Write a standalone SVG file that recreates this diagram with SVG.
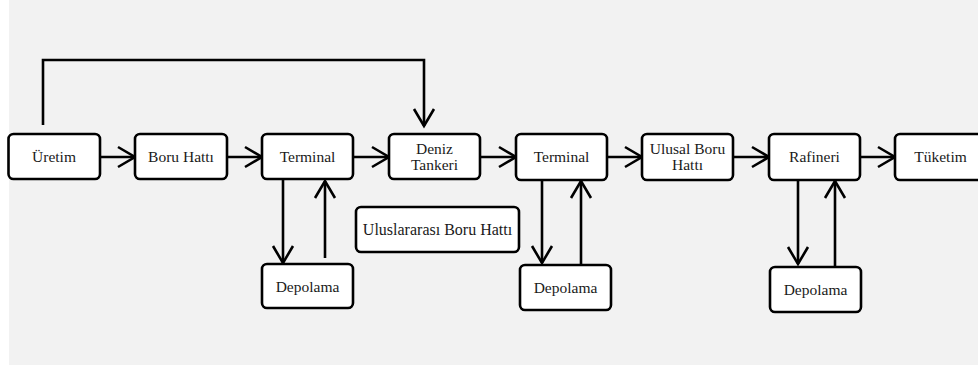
<svg xmlns="http://www.w3.org/2000/svg" width="978" height="365" viewBox="0 0 978 365">
<style>
.box{fill:#fff;stroke:#000;stroke-width:2.6}
.t{font-size:15.5px;fill:#1a1a1a;text-anchor:middle}
.c{fill:none;stroke:#000;stroke-width:2.6}
</style>
<defs>
<marker id="ah" markerUnits="userSpaceOnUse" markerWidth="40" markerHeight="40" viewBox="-20 -20 40 40" refX="0" refY="0" orient="auto" overflow="visible">
<path d="M-17,-10 L0,0 L-17,10" fill="none" stroke="#000" stroke-width="2.6"/>
</marker>
</defs>
<rect x="9" y="0" width="969" height="365" fill="#f2f2f2"/>
<g id="connectors">
<path class="c" d="M43,125 V60 H424 V126" marker-end="url(#ah)"/>
<path class="c" d="M100,157 H135" marker-end="url(#ah)"/>
<path class="c" d="M227,157 H262" marker-end="url(#ah)"/>
<path class="c" d="M353,157 H389" marker-end="url(#ah)"/>
<path class="c" d="M480,157 H516" marker-end="url(#ah)"/>
<path class="c" d="M607,157 H642" marker-end="url(#ah)"/>
<path class="c" d="M733,157 H769" marker-end="url(#ah)"/>
<path class="c" d="M860,157 H895" marker-end="url(#ah)"/>
<path class="c" d="M283,180 V263" marker-end="url(#ah)"/>
<path class="c" d="M325,258 V181" marker-end="url(#ah)"/>
<path class="c" d="M542,180 V263" marker-end="url(#ah)"/>
<path class="c" d="M581,264 V181" marker-end="url(#ah)"/>
<path class="c" d="M798,180 V264" marker-end="url(#ah)"/>
<path class="c" d="M835,266 V181" marker-end="url(#ah)"/>
</g>
<g font-family="'Liberation Serif', 'DejaVu Serif', serif">
<g id="uretim"><rect class="box" x="8.5" y="134" width="91.5" height="45" rx="5"/><text class="t" x="54" y="162">Üretim</text></g>
<g id="boru-hatti"><rect class="box" x="135" y="134" width="92" height="45" rx="5"/><text class="t" x="181" y="162">Boru Hattı</text></g>
<g id="terminal1"><rect class="box" x="262" y="134" width="91" height="45" rx="5"/><text class="t" x="307.5" y="162">Terminal</text></g>
<g id="deniz-tankeri"><rect class="box" x="389" y="134" width="91" height="45" rx="5"/><text class="t" x="434.5" y="154">Deniz</text><text class="t" x="434.5" y="170">Tankeri</text></g>
<g id="terminal2"><rect class="box" x="516" y="134" width="91" height="46" rx="5"/><text class="t" x="561.5" y="162">Terminal</text></g>
<g id="ulusal-boru-hatti"><rect class="box" x="642" y="134" width="91" height="46" rx="5"/><text class="t" x="687.5" y="154">Ulusal Boru</text><text class="t" x="687.5" y="170">Hattı</text></g>
<g id="rafineri"><rect class="box" x="769" y="134" width="91" height="46" rx="5"/><text class="t" x="814.5" y="162">Rafineri</text></g>
<g id="tuketim"><rect class="box" x="895" y="134" width="91" height="46" rx="5"/><text class="t" x="940.5" y="162">Tüketim</text></g>
<g id="depolama1"><rect class="box" x="262" y="264" width="91" height="44" rx="5"/><text class="t" x="307.5" y="292">Depolama</text></g>
<g id="uluslararasi"><rect class="box" x="356" y="207" width="163" height="45" rx="5"/><text class="t" x="437.5" y="235" style="font-size:16px">Uluslararası Boru Hattı</text></g>
<g id="depolama2"><rect class="box" x="520" y="265" width="91" height="45" rx="5"/><text class="t" x="565.5" y="293">Depolama</text></g>
<g id="depolama3"><rect class="box" x="770" y="267" width="91" height="45" rx="5"/><text class="t" x="815.5" y="295">Depolama</text></g>
</g>
</svg>
